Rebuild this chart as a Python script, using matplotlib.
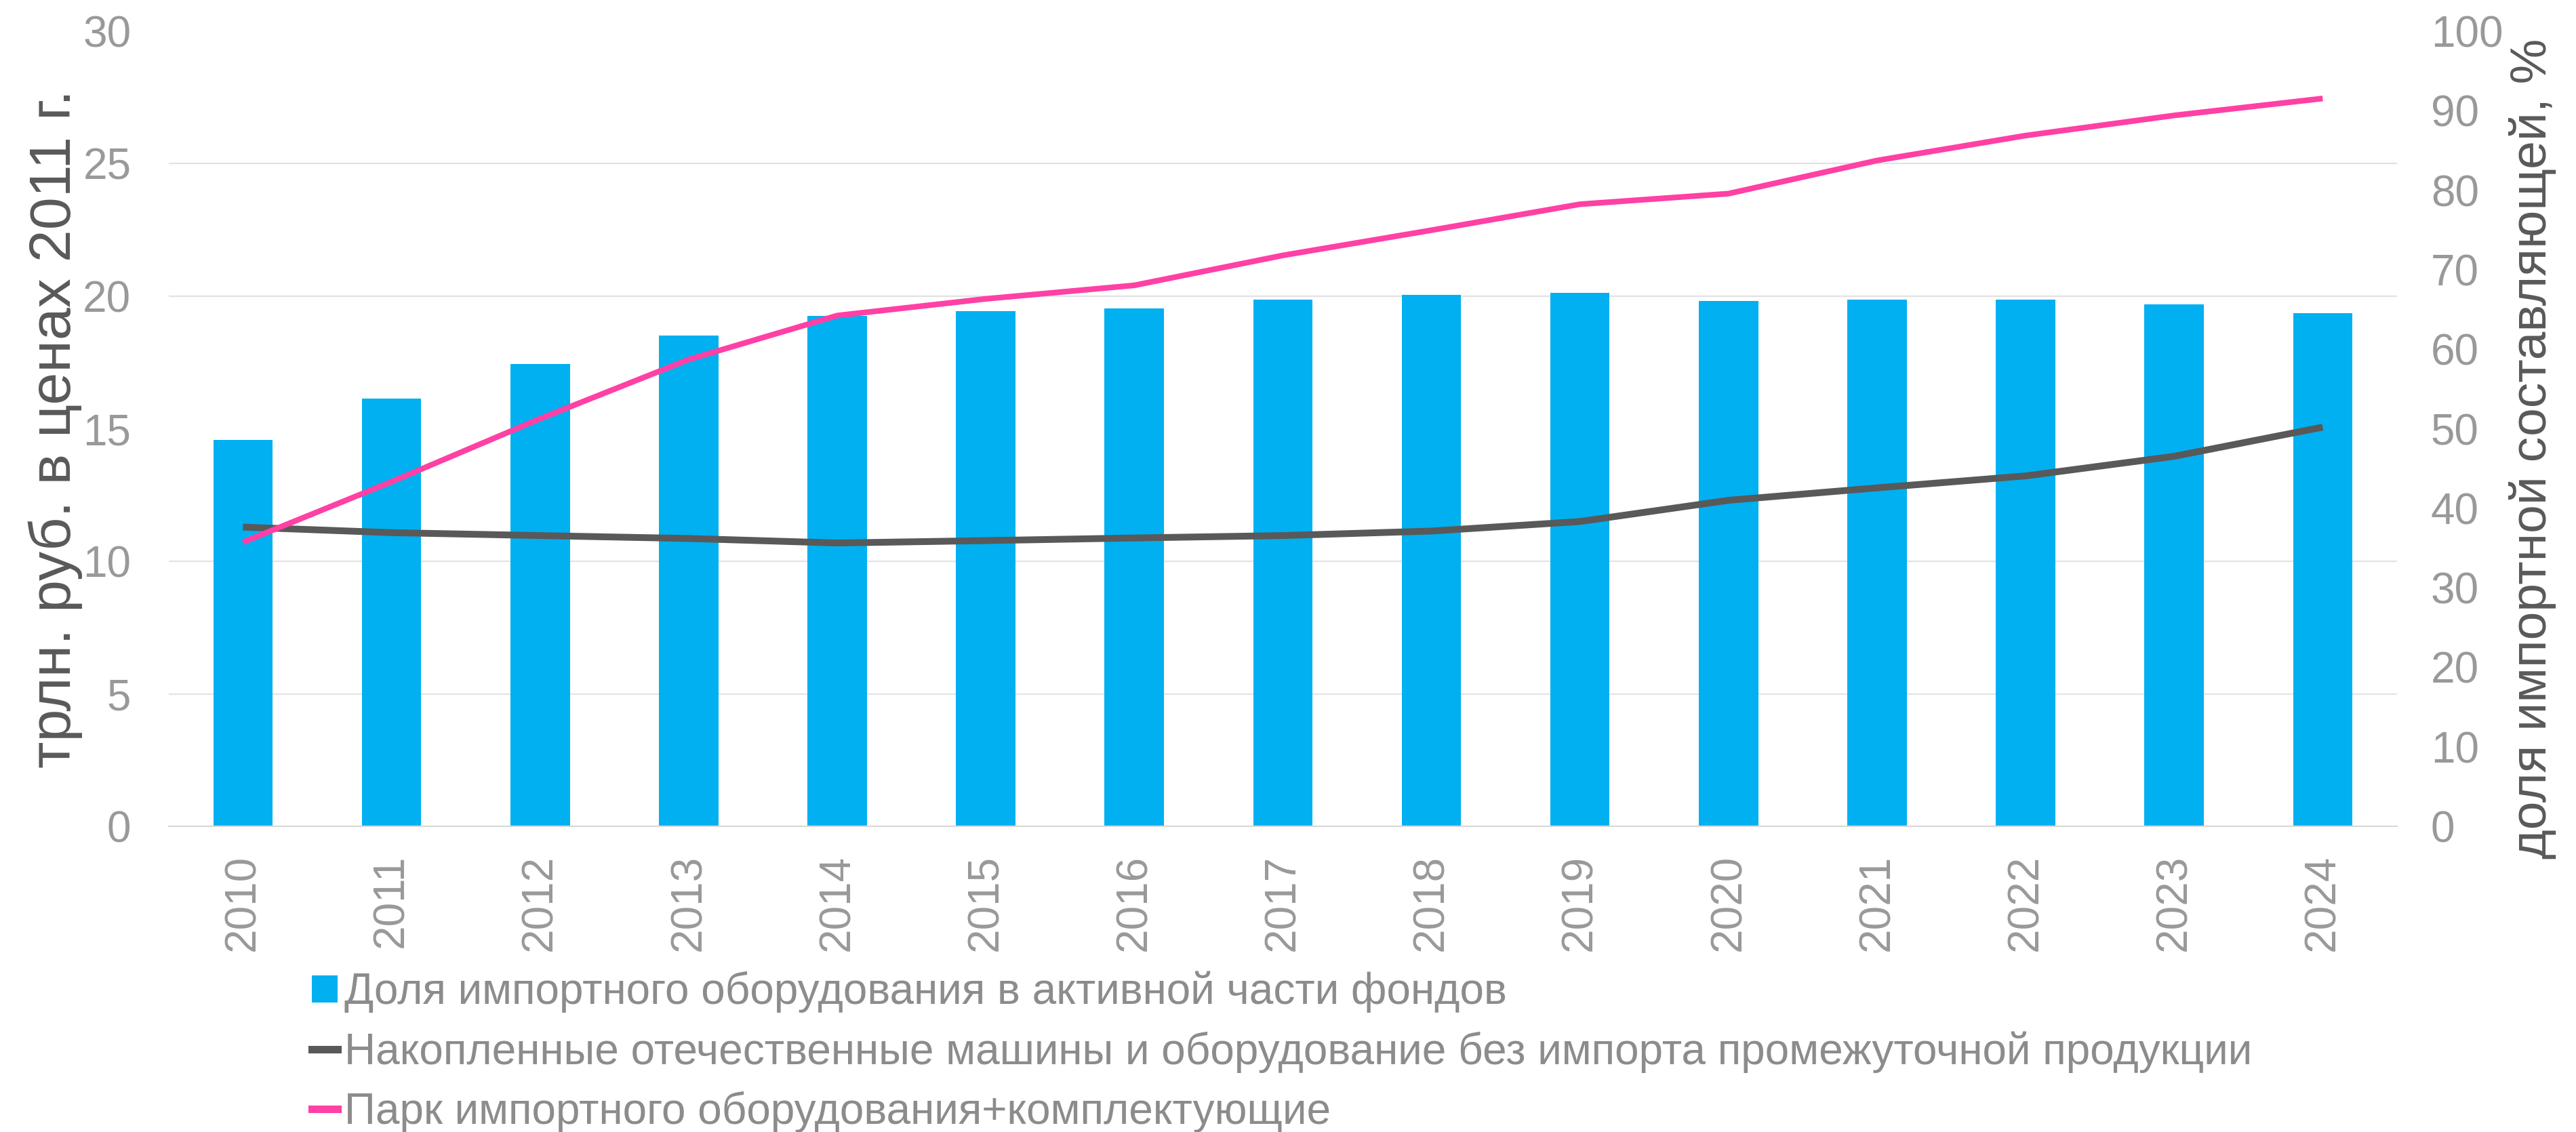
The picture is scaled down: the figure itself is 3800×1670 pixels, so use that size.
import numpy as np
import matplotlib.pyplot as plt
from matplotlib.patches import Patch
from matplotlib.lines import Line2D

plt.rcParams['font.family'] = ['Liberation Sans', 'DejaVu Sans']

years = ["2010", "2011", "2012", "2013", "2014", "2015", "2016", "2017",
         "2018", "2019", "2020", "2021", "2022", "2023", "2024"]

# доля импортного оборудования, % (правая ось)
import_share = [48.6, 53.8, 58.1, 61.7, 64.2, 64.8, 65.1, 66.2,
                66.8, 67.1, 66.1, 66.2, 66.2, 65.6, 64.5]

# трлн. руб. в ценах 2011 г. (левая ось)
domestic = [11.29, 11.08, 10.97, 10.86, 10.69, 10.78, 10.88, 10.97,
            11.14, 11.50, 12.30, 12.77, 13.22, 13.96, 15.06]
import_park = [10.72, 13.0, 15.38, 17.61, 19.27, 19.90, 20.41, 21.54,
               22.49, 23.47, 23.87, 25.12, 26.06, 26.82, 27.46]

label_bar = "Доля импортного оборудования в активной части фондов"
label_dom = "Накопленные отечественные машины и оборудование без импорта промежуточной продукции"
label_imp = "Парк импортного оборудования+комплектующие"

c_bar = "#00B0F0"
c_dom = "#595959"
c_imp = "#FF40A4"
tick_col = "#999999"

fig = plt.figure(figsize=(19, 8.35), dpi=200)
ax = fig.add_axes([0.0655, 0.270, 0.865, 0.7025])
ax2 = ax.twinx()
ax.set_zorder(ax2.get_zorder() + 1)
ax.patch.set_visible(False)

x = np.arange(len(years))
ax2.bar(x, import_share, width=0.40, color=c_bar, zorder=2)
ax.plot(x, domestic, color=c_dom, lw=3.6, solid_capstyle='butt')
ax.plot(x, import_park, color=c_imp, lw=3.0, solid_capstyle='butt')

ax.set_xlim(-0.5, len(years) - 0.5)
ax.set_ylim(0, 30)
ax.set_yticks(np.arange(0, 31, 5))
ax2.set_ylim(0, 100)
ax2.set_yticks(np.arange(0, 101, 10))

# grid lines follow the left axis ticks, drawn behind the bars
ax2.set_yticks(np.array(ax.get_yticks()) * 100 / 30, minor=True)
ax2.set_axisbelow(True)
ax2.yaxis.grid(True, which='minor', color='#e3e3e3', lw=0.8)
ax2.tick_params(axis='y', which='minor', length=0)

ax.set_xticks(x)
ax.set_xticklabels(years, rotation=90)

for a in (ax, ax2):
    for s in a.spines.values():
        s.set_visible(False)
ax2.spines['bottom'].set_visible(True)
ax2.spines['bottom'].set_color('#d9d9d9')
ax2.spines['bottom'].set_linewidth(0.8)

ax.tick_params(axis='y', length=0, pad=20, labelsize=23, labelcolor=tick_col)
ax.tick_params(axis='x', length=0, pad=15, labelsize=23, labelcolor=tick_col)
ax2.tick_params(axis='y', which='major', length=0, pad=18, labelsize=23, labelcolor=tick_col)

ax.set_ylabel("трлн. руб. в ценах 2011 г.", fontsize=31, color=c_dom, labelpad=0)
ax2.set_ylabel("доля импортной составляющей, %", fontsize=27, color=c_dom, labelpad=3)
ax2.yaxis.label.set_y(0.475)

handles = [Patch(facecolor=c_bar, edgecolor='none'),
           Line2D([0], [0], color=c_dom, lw=4),
           Line2D([0], [0], color=c_imp, lw=4)]
leg = fig.legend(handles, [label_bar, label_dom, label_imp],
                 loc='upper left', bbox_to_anchor=(0.121, 0.142),
                 frameon=False, fontsize=23, handlelength=0.6, handleheight=0.6,
                 handletextpad=0.15, labelspacing=0.42, borderpad=0, borderaxespad=0)
for t in leg.get_texts():
    t.set_color('#8c8c8c')

fig.savefig("out.png", dpi=200)
